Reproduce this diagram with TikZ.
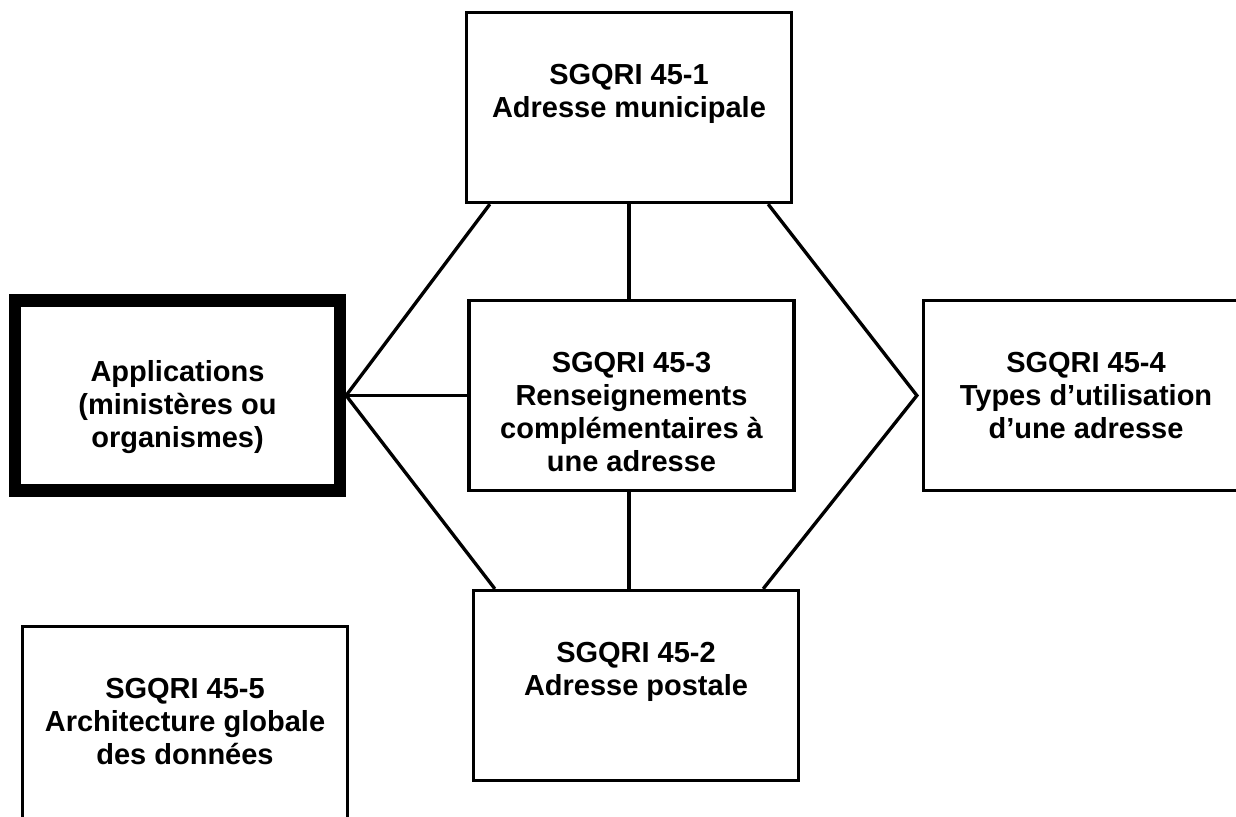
\documentclass[tikz,border=0pt]{standalone}
\usepackage{fontspec}
\setmainfont{Liberation Sans}
\usepackage{tikz}
\usetikzlibrary{calc}

\newcommand{\boxfont}{\fontsize{16.5}{18.8}\selectfont\bfseries}

\begin{document}
\begin{tikzpicture}[
            x=0.02cm, y=-0.02cm,
            stdbox/.style={
                draw,
                line width=1.9pt,
                minimum width=6.5cm,
                minimum height=3.8cm,
                inner sep=0pt
            },
            appbox/.style={
                stdbox,
                line width=7pt
            },
            boxtext/.style={
                anchor=north,
                inner sep=0pt,
                align=center,
                font=\boxfont,
                yshift=-1.06cm
            },
            link/.style={
                line width=1.9pt
            }
        ]
        \clip (0,0) rectangle (1236,816);
        \node[stdbox, label={[boxtext]north:SGQRI 45-1\\Adresse municipale}] (t1) at (629,107.5) {};
        \node[appbox, label={[boxtext, yshift=-0.26cm]north:Applications\\(ministères ou\\organismes)}] (app) at (177.5,395.5) {};
        \node[stdbox, label={[boxtext]north:SGQRI 45-3\\Renseignements\\complémentaires à\\une adresse}] (t3) at (631.5,395.5) {};
        \node[stdbox, label={[boxtext]north:SGQRI 45-4\\Types d’utilisation\\d’une adresse}] (t4) at (1086,395.5) {};
        \node[stdbox, label={[boxtext]north:SGQRI 45-2\\Adresse postale}] (t2) at (636,685.5) {};
        \node[stdbox, minimum height=4cm, label={[boxtext]north:SGQRI 45-5\\Architecture globale\\des données}] (t5) at (185,726.5) {};
        \coordinate (tip) at ($(t4.west)+(-5,0)$);
        \draw[link] ($(t1.south west)+(25,0)$) -- (app.east);
        \draw[link] (t1.south) -- (t1.south |- t3.north);
        \draw[link] ($(t1.south east)+(-25,0)$) -- (tip) -- ($(t2.north east)+(-37,0)$);
        \draw[link] (app.east) -- (t3.west);
        \draw[link] (app.east) -- ($(t2.north west)+(23,0)$);
        \draw[link] (t1.south |- t3.south) -- (t1.south |- t2.north);
        \end{tikzpicture}
\end{document}
